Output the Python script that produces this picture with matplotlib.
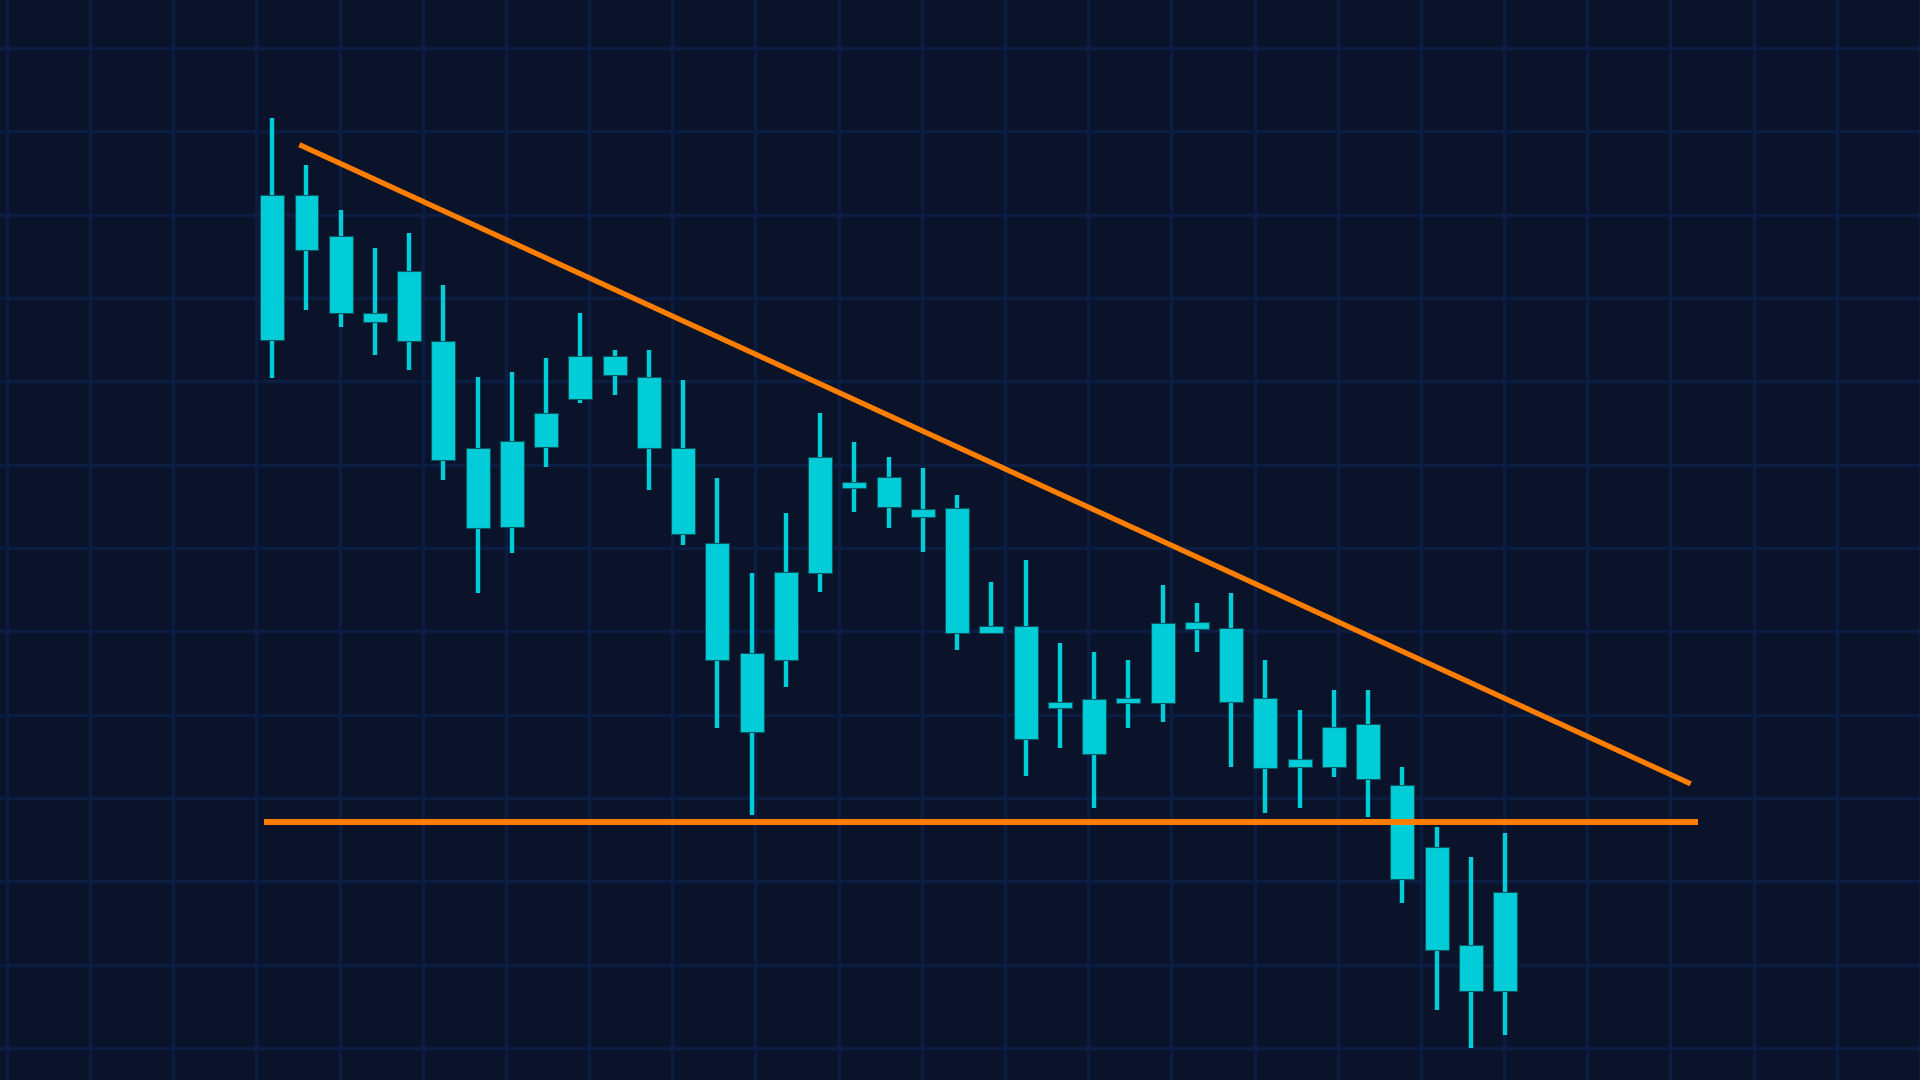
import numpy as np
import matplotlib
matplotlib.use("Agg")
import matplotlib.pyplot as plt

# candle data (price units)
opens = [102.4, 102.4, 97.4, 88.2, 93.2, 84.8, 72.0, 62.5, 72.1, 83.0,
         83.0, 80.5, 72.0, 60.6, 47.4, 46.6, 57.0, 67.9, 64.9, 64.7,
         64.8, 50.6, 50.6, 41.5, 41.9, 42.0, 41.4, 51.1, 50.4, 42.0,
         34.7, 33.7, 38.9, 31.6, 24.1, 12.4, 6.8]
closes = [85.0, 95.8, 88.2, 87.1, 84.8, 70.6, 62.4, 72.8, 76.2, 77.9,
          80.8, 72.0, 61.7, 46.6, 37.9, 57.1, 70.9, 67.2, 68.5, 63.7,
          49.8, 49.8, 37.1, 40.8, 35.3, 41.4, 51.0, 50.3, 41.5, 33.6,
          33.7, 38.5, 32.3, 20.3, 11.8, 6.8, 18.7]
highs = [111.6, 106.0, 100.6, 96.0, 97.8, 91.6, 80.5, 81.1, 82.8, 88.2,
         83.8, 83.8, 80.2, 68.4, 57.0, 64.2, 76.2, 72.7, 70.9, 69.6,
         66.4, 55.9, 58.6, 48.6, 47.5, 46.6, 55.6, 53.4, 54.6, 46.6,
         40.6, 43.0, 43.0, 33.7, 26.5, 22.9, 25.8]
lows = [80.4, 88.6, 86.5, 83.2, 81.4, 68.2, 54.6, 59.4, 69.7, 77.4,
        78.4, 67.0, 60.4, 38.4, 28.0, 43.3, 54.7, 64.3, 62.4, 59.5,
        47.8, 49.8, 32.6, 36.0, 28.8, 38.4, 39.1, 47.5, 33.7, 28.2,
        28.8, 32.5, 27.7, 17.4, 4.6, 0.0, 1.6]

# trend lines: (start index, start price), (end index, end price)
resist_x = [0.79, 41.42]
resist_y = [108.4, 31.7]
support_x = [-0.23, 41.62]
support_y = [27.1, 27.1]

bg = "#0a1329"
grid_col = "#0b1d42"
cyan = "#00cdd8"
orange = "#ff7e00"

fig = plt.figure(figsize=(19.2, 10.8), dpi=100)
fig.patch.set_facecolor(bg)
ax = fig.add_axes([0, 0, 1, 1])
ax.set_facecolor(bg)

idx = np.arange(len(opens))
o = np.array(opens)
c = np.array(closes)
bottoms = np.minimum(o, c)
heights = np.maximum(np.abs(c - o), 0.6)

ax.vlines(idx, lows, highs, color=cyan, linewidth=3.2, zorder=3)
ax.bar(idx, heights, bottom=bottoms, width=0.7, color=cyan,
       edgecolor="#0a5560", linewidth=0.8, zorder=4)

ax.plot(resist_x, resist_y, color=orange, linewidth=3.8,
        solid_capstyle="butt", zorder=5)
ax.plot(support_x, support_y, color=orange, linewidth=4.3,
        solid_capstyle="butt", zorder=5)

ax.set_xlim(-7.95, 47.97)
ax.set_ylim(-3.84, 125.76)

# background grid
ax.set_xticks(-7.75 + 2.429 * np.arange(24))
ax.set_yticks(np.arange(0, 130, 10))
ax.grid(True, color=grid_col, linewidth=2.4)
ax.set_axisbelow(True)
ax.tick_params(length=0, labelbottom=False, labelleft=False)
for s in ax.spines.values():
    s.set_visible(False)

fig.savefig("out.png", dpi=100, facecolor=bg)
